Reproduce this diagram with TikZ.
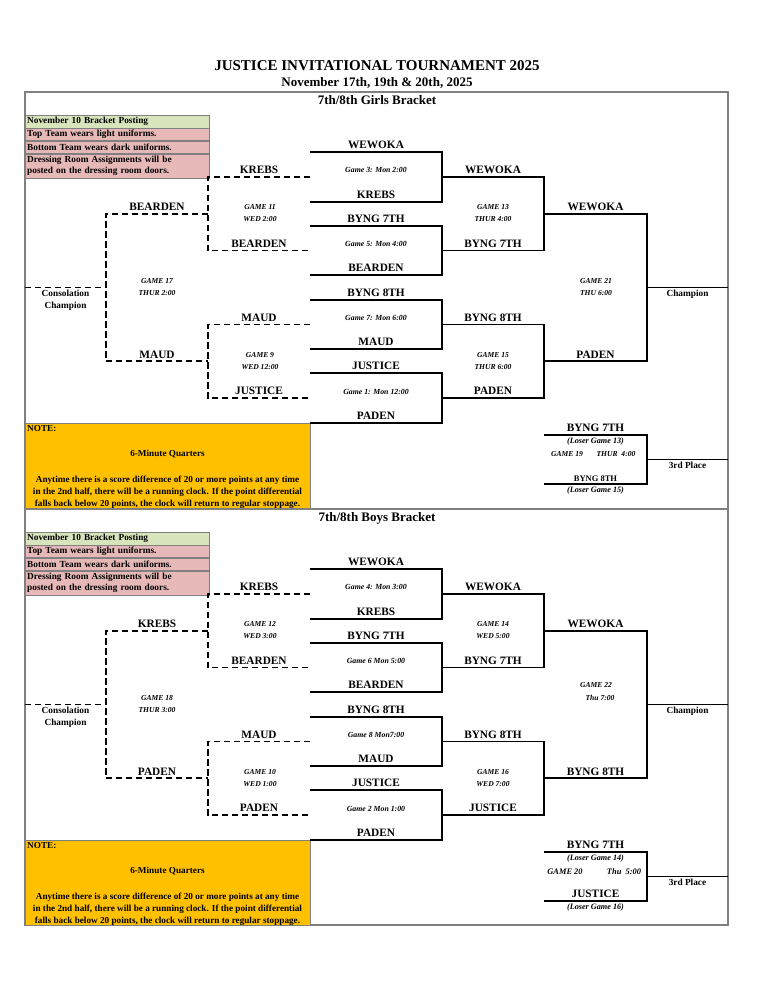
\documentclass[tikz,border=0pt]{standalone}
\usepackage{fontspec}
\setmainfont{Liberation Serif}
\usepackage{xcolor}
\usepackage{tikz}
\usetikzlibrary{positioning}
\definecolor{postgreen}{RGB}{216,228,188}
\definecolor{rulepink}{RGB}{230,184,183}
\definecolor{noteorange}{RGB}{255,192,0}
\definecolor{framegray}{RGB}{128,128,128}
\tikzset{
  br_title/.style={font=\bfseries\fontsize{15}{18}\selectfont, inner sep=0pt},
  br_head/.style={font=\bfseries\fontsize{13}{15}\selectfont, inner sep=0pt},
  br_team/.style={
    anchor=south, inner xsep=0pt, inner ysep=3pt, text depth=0pt,
    font=\bfseries\fontsize{11.3}{13}\selectfont
  },
  br_r1/.style={br_team, minimum width=132pt},
  br_r2/.style={br_team, minimum width=102pt},
  br_r3/.style={br_team, minimum width=103pt},
  br_end/.style={
    anchor=north, minimum width=81pt, inner xsep=0pt, inner ysep=2pt,
    align=center, font=\bfseries\fontsize{9.3}{12}\selectfont
  },
  br_game/.style={font=\bfseries\itshape\fontsize{7.8}{9}\selectfont, inner sep=0pt},
  br_info/.style={align=center, font=\bfseries\itshape\fontsize{7.6}{12}\selectfont, inner sep=0pt},
  br_loser/.style={font=\bfseries\itshape\fontsize{8.2}{10}\selectfont, inner sep=0pt},
  br_post/.style={
    draw=framegray, fill=postgreen, anchor=north west, text width=180pt,
    inner xsep=2pt, inner ysep=0pt, minimum height=12.5pt, align=left,
    font=\bfseries\fontsize{9.3}{11}\selectfont
  },
  br_rule/.style={br_post, fill=rulepink},
  br_note/.style={
    draw=framegray, fill=noteorange, anchor=north west,
    minimum width=285pt, minimum height=85pt, inner sep=0pt
  },
  br_notetxt/.style={align=center, inner sep=0pt, font=\bfseries\fontsize{9.2}{12}\selectfont},
  br_win/.style={line width=1.6pt},
  br_cons/.style={line width=1.6pt, dash pattern=on 6.5pt off 3.5pt},
  br_frame/.style={draw=framegray, line width=1.3pt},
}

\begin{document}
\begin{tikzpicture}[x=1pt, y=-1pt]
\useasboundingbox (0,0) rectangle (756,983);

\node[br_title] (title) at (377,66) {JUSTICE INVITATIONAL TOURNAMENT 2025};
\node[br_head]  (dates) at (377,83) {November 17th, 19th \& 20th, 2025};

% Frame
\draw[br_frame] (25,92) rectangle (728,925);
\draw[br_frame] (25,509) -- (728,509);

% ---------------- Girls bracket ----------------
\node[br_head] (ghead) at (377,100) {7th/8th Girls Bracket};
\node[br_post] (gpost) at (25,115) {November 10 Bracket Posting};
\node[br_rule, below=0pt of gpost] (gtop) {Top Team wears light uniforms.};
\node[br_rule, below=0pt of gtop]  (gbot) {Bottom Team wears dark uniforms.};
\node[br_rule, below=0pt of gbot, minimum height=24.5pt] (groom) {Dressing Room Assignments will be\\posted on the dressing room doors.};

\node[br_note] (gnote) at (25,423) {};
\node[br_notetxt, anchor=north west] (gnotehd) at (27,425) {NOTE:};
\node[br_notetxt] (gnoteq)  at (167.5,454) {6-Minute Quarters};
\node[br_notetxt] (gnotetx) at (167.5,492) {Anytime there is a score difference of 20 or more points at any time\\in the 2nd half, there will be a running clock. If the point differential\\falls back below 20 points, the clock will return to regular stoppage.};

% First round
\node[br_r1] (g3a) at (376,152) {WEWOKA};
\node[br_r1] (g3b) at (376,202) {KREBS};
\node[br_r1] (g5a) at (376,226) {BYNG 7TH};
\node[br_r1] (g5b) at (376,275) {BEARDEN};
\node[br_r1] (g7a) at (376,300) {BYNG 8TH};
\node[br_r1] (g7b) at (376,349) {MAUD};
\node[br_r1] (g1a) at (376,373) {JUSTICE};
\node[br_r1] (g1b) at (376,423) {PADEN};
\node[br_game] (g3lbl) at (376,170) {Game 3: Mon 2:00};
\node[br_game] (g5lbl) at (376,244) {Game 5: Mon 4:00};
\node[br_game] (g7lbl) at (376,318) {Game 7: Mon 6:00};
\node[br_game] (g1lbl) at (376,392) {Game 1: Mon 12:00};

% Semis and final
\node[br_r2] (g13a) at (493,177)   {WEWOKA};
\node[br_r2] (g13b) at (493,250.5) {BYNG 7TH};
\node[br_r2] (g15a) at (493,324.5) {BYNG 8TH};
\node[br_r2] (g15b) at (493,398)   {PADEN};
\node[br_r3] (g21a) at (595.5,213.75) {WEWOKA};
\node[br_r3] (g21b) at (595.5,361.25) {PADEN};
\node[br_end] (gchamp) at (687.5,287.5) {Champion};
\node[br_info] (g13lbl) at (493,213) {GAME 13\\THUR 4:00};
\node[br_info] (g15lbl) at (493,361) {GAME 15\\THUR 6:00};
\node[br_info] (g21lbl) at (596,287) {GAME 21\\THU 6:00};

% Consolation
\node[br_r2] (g11a) at (259,177)   {KREBS};
\node[br_r2] (g11b) at (259,250.5) {BEARDEN};
\node[br_r2] (g9a)  at (259,324.5) {MAUD};
\node[br_r2] (g9b)  at (259,398)   {JUSTICE};
\node[br_r2] (g17a) at (157,213.75) {BEARDEN};
\node[br_r2] (g17b) at (157,361.25) {MAUD};
\node[br_end] (gcons) at (65.5,287.5) {Consolation\\Champion};
\node[br_info] (g11lbl) at (260,213) {GAME 11\\WED 2:00};
\node[br_info] (g9lbl)  at (260,361) {GAME 9\\WED 12:00};
\node[br_info] (g17lbl) at (157,287) {GAME 17\\THUR 2:00};

% Third place
\node[br_r3] (g19a) at (595.5,435) {BYNG 7TH};
\node[br_r3, inner ysep=2pt, font=\bfseries\fontsize{8.5}{10}\selectfont] (g19b) at (595.5,484) {BYNG 8TH};
\node[br_end] (gthird) at (687.5,459.5) {3rd Place};
\node[br_loser] (g19l1) at (595.5,441.5) {(Loser Game 13)};
\node[br_loser] (g19l2) at (595.5,491) {(Loser Game 15)};
\node[br_info] (g19lbl)  at (567,454) {GAME 19};
\node[br_info] (g19time) at (616,454) {THUR~~4:00};

\draw[br_win] (g3a.south west) -- (g3a.south east) -- (g3b.south east) -- (g3b.south west);
\draw[br_win] (g5a.south west) -- (g5a.south east) -- (g5b.south east) -- (g5b.south west);
\draw[br_win] (g7a.south west) -- (g7a.south east) -- (g7b.south east) -- (g7b.south west);
\draw[br_win] (g1a.south west) -- (g1a.south east) -- (g1b.south east) -- (g1b.south west);
\draw[br_win] (g13a.south west) -- (g13a.south east) -- (g13b.south east) -- (g13b.south west);
\draw[br_win] (g15a.south west) -- (g15a.south east) -- (g15b.south east) -- (g15b.south west);
\draw[br_win] (g21a.south west) -- (g21a.south east) -- (g21b.south east) -- (g21b.south west);
\draw[br_win] (gchamp.north west) -- (gchamp.north east);
\draw[br_win] (g19a.south west) -- (g19a.south east) -- (g19b.south east) -- (g19b.south west);
\draw[br_win] (gthird.north west) -- (gthird.north east);
\draw[br_cons] (g11a.south east) -- (g11a.south west) -- (g11b.south west) -- (g11b.south east);
\draw[br_cons] (g9a.south east) -- (g9a.south west) -- (g9b.south west) -- (g9b.south east);
\draw[br_cons] (g17a.south east) -- (g17a.south west) -- (g17b.south west) -- (g17b.south east);
\draw[br_cons] (gcons.north west) -- (gcons.north east);

% ---------------- Boys bracket ----------------
\node[br_head] (bhead) at (377,518) {7th/8th Boys Bracket};
\node[br_post] (bpost) at (25,532) {November 10 Bracket Posting};
\node[br_rule, below=0pt of bpost] (btop) {Top Team wears light uniforms.};
\node[br_rule, below=0pt of btop]  (bbot) {Bottom Team wears dark uniforms.};
\node[br_rule, below=0pt of bbot, minimum height=24.5pt] (broom) {Dressing Room Assignments will be\\posted on the dressing room doors.};

\node[br_note] (bnote) at (25,840) {};
\node[br_notetxt, anchor=north west] (bnotehd) at (27,842) {NOTE:};
\node[br_notetxt] (bnoteq)  at (167.5,871) {6-Minute Quarters};
\node[br_notetxt] (bnotetx) at (167.5,909) {Anytime there is a score difference of 20 or more points at any time\\in the 2nd half, there will be a running clock. If the point differential\\falls back below 20 points, the clock will return to regular stoppage.};

% First round
\node[br_r1] (b4a) at (376,569) {WEWOKA};
\node[br_r1] (b4b) at (376,619) {KREBS};
\node[br_r1] (b6a) at (376,643) {BYNG 7TH};
\node[br_r1] (b6b) at (376,692) {BEARDEN};
\node[br_r1] (b8a) at (376,717) {BYNG 8TH};
\node[br_r1] (b8b) at (376,766) {MAUD};
\node[br_r1] (b2a) at (376,790) {JUSTICE};
\node[br_r1] (b2b) at (376,840) {PADEN};
\node[br_game] (b4lbl) at (376,587) {Game 4: Mon 3:00};
\node[br_game] (b6lbl) at (376,661) {Game 6 Mon 5:00};
\node[br_game] (b8lbl) at (376,735) {Game 8 Mon7:00};
\node[br_game] (b2lbl) at (376,809) {Game 2 Mon 1:00};

% Semis and final
\node[br_r2] (b14a) at (493,594)   {WEWOKA};
\node[br_r2] (b14b) at (493,667.5) {BYNG 7TH};
\node[br_r2] (b16a) at (493,741.5) {BYNG 8TH};
\node[br_r2] (b16b) at (493,815)   {JUSTICE};
\node[br_r3] (b22a) at (595.5,630.75) {WEWOKA};
\node[br_r3] (b22b) at (595.5,778.25) {BYNG 8TH};
\node[br_end] (bchamp) at (687.5,704.5) {Champion};
\node[br_info] (b14lbl) at (493,630) {GAME 14\\WED 5:00};
\node[br_info] (b16lbl) at (493,778) {GAME 16\\WED 7:00};
\node[br_info] (b22lbl)  at (596,685) {GAME 22};
\node[br_info] (b22time) at (600,698) {Thu 7:00};

% Consolation
\node[br_r2] (b12a) at (259,594)   {KREBS};
\node[br_r2] (b12b) at (259,667.5) {BEARDEN};
\node[br_r2] (b10a) at (259,741.5) {MAUD};
\node[br_r2] (b10b) at (259,815)   {PADEN};
\node[br_r2] (b18a) at (157,630.75) {KREBS};
\node[br_r2] (b18b) at (157,778.25) {PADEN};
\node[br_end] (bcons) at (65.5,704.5) {Consolation\\Champion};
\node[br_info] (b12lbl) at (260,630) {GAME 12\\WED 3:00};
\node[br_info] (b10lbl) at (260,778) {GAME 10\\WED 1:00};
\node[br_info] (b18lbl) at (157,704) {GAME 18\\THUR 3:00};

% Third place
\node[br_r3] (b20a) at (595.5,852) {BYNG 7TH};
\node[br_r3] (b20b) at (595.5,901) {JUSTICE};
\node[br_end] (bthird) at (687.5,876.5) {3rd Place};
\node[br_loser] (b20l1) at (595.5,858.5) {(Loser Game 14)};
\node[br_loser] (b20l2) at (595.5,908) {(Loser Game 16)};
\node[br_info, font=\bfseries\itshape\fontsize{8.4}{10}\selectfont] (b20lbl)  at (565,872) {GAME 20};
\node[br_info, font=\bfseries\itshape\fontsize{8.4}{10}\selectfont] (b20time) at (624,872) {Thu~~5:00};

\draw[br_win] (b4a.south west) -- (b4a.south east) -- (b4b.south east) -- (b4b.south west);
\draw[br_win] (b6a.south west) -- (b6a.south east) -- (b6b.south east) -- (b6b.south west);
\draw[br_win] (b8a.south west) -- (b8a.south east) -- (b8b.south east) -- (b8b.south west);
\draw[br_win] (b2a.south west) -- (b2a.south east) -- (b2b.south east) -- (b2b.south west);
\draw[br_win] (b14a.south west) -- (b14a.south east) -- (b14b.south east) -- (b14b.south west);
\draw[br_win] (b16a.south west) -- (b16a.south east) -- (b16b.south east) -- (b16b.south west);
\draw[br_win] (b22a.south west) -- (b22a.south east) -- (b22b.south east) -- (b22b.south west);
\draw[br_win] (bchamp.north west) -- (bchamp.north east);
\draw[br_win] (b20a.south west) -- (b20a.south east) -- (b20b.south east) -- (b20b.south west);
\draw[br_win] (bthird.north west) -- (bthird.north east);
\draw[br_cons] (b12a.south east) -- (b12a.south west) -- (b12b.south west) -- (b12b.south east);
\draw[br_cons] (b10a.south east) -- (b10a.south west) -- (b10b.south west) -- (b10b.south east);
\draw[br_cons] (b18a.south east) -- (b18a.south west) -- (b18b.south west) -- (b18b.south east);
\draw[br_cons] (bcons.north west) -- (bcons.north east);

\end{tikzpicture}
\end{document}
